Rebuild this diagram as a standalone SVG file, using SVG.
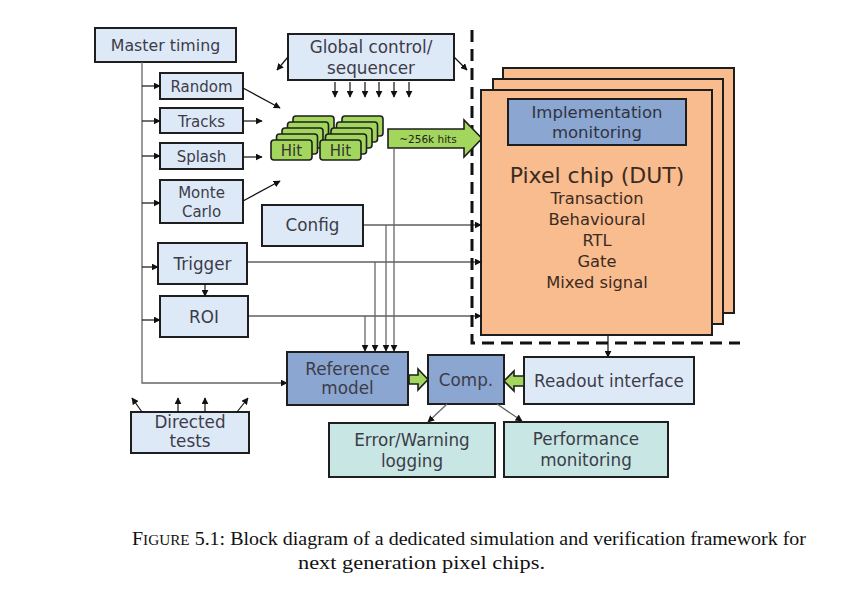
<svg xmlns="http://www.w3.org/2000/svg" width="843" height="592" viewBox="0 0 843 592">
<defs>
<marker id="ahs" viewBox="0 0 10 10" refX="9" refY="5" markerWidth="7" markerHeight="7" orient="auto" markerUnits="userSpaceOnUse">
<path d="M0,0 L10,5 L0,10 z" fill="#111"/>
</marker>
</defs>
<style>
.lb{fill:#dee9f8;stroke:#1e1e1e;stroke-width:2}
.sb{fill:#8ba6d1;stroke:#1e1e1e;stroke-width:2}
.tl{fill:#c8e6e4;stroke:#1e1e1e;stroke-width:2}
.pc{fill:#f9bc8e;stroke:#1e1e1e;stroke-width:2}
.hit{fill:#a3d65c;stroke:#1e1e1e;stroke-width:1.6}
.ga{fill:#a3d65c;stroke:#1e1e1e;stroke-width:1.6}
text{font-family:"DejaVu Sans","Liberation Sans",sans-serif;fill:#3c3c48;text-anchor:middle}
.t15{font-size:16.8px}
.t14{font-size:15px}
.dut{fill:#3b2b22}
.ln{fill:none;stroke:#111;stroke-width:1.2}
.lg{fill:none;stroke:#666;stroke-width:1.3}
.cap{font-family:"Liberation Serif","DejaVu Serif",serif;font-size:19px;fill:#111}
</style>
<g id="dashed-boundary">
<path d="M472,30 V343 H740" fill="none" stroke="#111" stroke-width="3" stroke-dasharray="12 7"/>
</g>
<g id="master-timing"><rect class="lb" x="95" y="28" width="141" height="34"/><text x="165.5" y="51" style="font-size:15.8px">Master timing</text></g>
<g id="random"><rect class="lb" x="160" y="73" width="83" height="26"/><text class="t14" x="201.5" y="91.5">Random</text></g>
<g id="tracks"><rect class="lb" x="160" y="108" width="83" height="25"/><text class="t14" x="201.5" y="126.5">Tracks</text></g>
<g id="splash"><rect class="lb" x="160" y="143" width="83" height="26"/><text class="t14" x="201.5" y="161.5">Splash</text></g>
<g id="monte-carlo"><rect class="lb" x="160" y="180" width="83" height="43"/><text class="t14" x="201.5" y="198">Monte</text><text class="t14" x="201.5" y="217">Carlo</text></g>
<g id="global-control"><rect class="lb" x="288" y="34" width="166" height="46"/><text class="t15" x="371" y="53">Global control/</text><text class="t15" x="371" y="74">sequencer</text></g>
<g id="config"><rect class="lb" x="262" y="205" width="101" height="41"/><text class="t15" x="312.5" y="231">Config</text></g>
<g id="trigger"><rect class="lb" x="158" y="243" width="89" height="41"/><text class="t15" x="202.5" y="270">Trigger</text></g>
<g id="roi"><rect class="lb" x="160" y="296" width="88" height="41"/><text class="t15" x="204" y="323">ROI</text></g>
<g id="hits">
<rect class="hit" x="293" y="116" width="41" height="20" rx="3"/>
<rect class="hit" x="287.5" y="122" width="41" height="20" rx="3"/>
<rect class="hit" x="282" y="128" width="41" height="20" rx="3"/>
<rect class="hit" x="276.5" y="134" width="41" height="20" rx="3"/>
<rect class="hit" x="271" y="140" width="41" height="20" rx="3"/>
<text x="291.5" y="156" style="font-size:15px;fill:#333">Hit</text>
<rect class="hit" x="342" y="116" width="41" height="20" rx="3"/>
<rect class="hit" x="336.5" y="122" width="41" height="20" rx="3"/>
<rect class="hit" x="331" y="128" width="41" height="20" rx="3"/>
<rect class="hit" x="325.5" y="134" width="41" height="20" rx="3"/>
<rect class="hit" x="320" y="140" width="41" height="20" rx="3"/>
<text x="340.5" y="156" style="font-size:15px;fill:#333">Hit</text>
</g>
<g id="hits-arrow">
<polygon class="ga" points="388,129 464,129 464,120 482,138.5 464,157 464,148 388,148"/>
<text x="428" y="142.5" style="font-size:10.5px;fill:#222">~256k hits</text>
</g>
<g id="dut">
<rect class="pc" x="503" y="68" width="231" height="245"/>
<rect class="pc" x="493" y="79" width="230" height="245"/>
<rect class="pc" x="481" y="90" width="231" height="245"/>
<rect class="sb" x="508" y="99" width="178" height="46"/>
<text x="597" y="118" style="font-size:16.5px;fill:#2e3440">Implementation</text>
<text x="597" y="138" style="font-size:16.5px;fill:#2e3440">monitoring</text>
<text class="dut" x="597" y="183" style="font-size:22px">Pixel chip (DUT)</text>
<text class="dut" x="597" y="204" style="font-size:16.3px">Transaction</text>
<text class="dut" x="597" y="225" style="font-size:16.3px">Behavioural</text>
<text class="dut" x="597" y="246" style="font-size:16.3px">RTL</text>
<text class="dut" x="597" y="267" style="font-size:16.3px">Gate</text>
<text class="dut" x="597" y="288" style="font-size:16.3px">Mixed signal</text>
</g>
<g id="reference-model"><rect class="sb" x="287" y="352" width="121" height="53"/><text class="t15" x="347.5" y="375">Reference</text><text class="t15" x="347.5" y="394">model</text></g>
<g id="comp"><rect class="sb" x="428" y="355" width="76" height="49"/><text class="t15" x="466" y="386">Comp.</text></g>
<g id="readout-interface"><rect class="lb" x="524" y="357" width="170" height="47"/><text class="t15" x="609" y="387">Readout interface</text></g>
<g id="directed-tests"><rect class="lb" x="131" y="412" width="118" height="41"/><text class="t15" x="190" y="428">Directed</text><text class="t15" x="190" y="447">tests</text></g>
<g id="error-logging"><rect class="tl" x="329" y="423" width="166" height="54"/><text class="t15" x="412" y="446">Error/Warning</text><text class="t15" x="412" y="467">logging</text></g>
<g id="performance-monitoring"><rect class="tl" x="504" y="422" width="164" height="55"/><text class="t15" x="586" y="445">Performance</text><text class="t15" x="586" y="466">monitoring</text></g>
<g id="connectors">
<path class="lg" d="M142,62 V383 H287" marker-end="url(#ahs)"/>
<path class="ln" d="M142,86 H160" marker-end="url(#ahs)"/>
<path class="ln" d="M142,121 H160" marker-end="url(#ahs)"/>
<path class="ln" d="M142,156 H160" marker-end="url(#ahs)"/>
<path class="ln" d="M142,203 H160" marker-end="url(#ahs)"/>
<path class="ln" d="M142,267 H158" marker-end="url(#ahs)"/>
<path class="ln" d="M142,320 H160" marker-end="url(#ahs)"/>
<path class="ln" d="M243,88 L280,108" marker-end="url(#ahs)"/>
<path class="ln" d="M243,121 H262" marker-end="url(#ahs)"/>
<path class="ln" d="M243,157 H262" marker-end="url(#ahs)"/>
<path class="ln" d="M243,201 L280,181" marker-end="url(#ahs)"/>
<path class="ln" d="M288,57 L277,70" marker-end="url(#ahs)"/>
<path class="ln" d="M454,57 L467,70" marker-end="url(#ahs)"/>
<path class="ln" d="M335,82 V97" marker-end="url(#ahs)"/>
<path class="ln" d="M350,82 V97" marker-end="url(#ahs)"/>
<path class="ln" d="M365,82 V97" marker-end="url(#ahs)"/>
<path class="ln" d="M379,82 V97" marker-end="url(#ahs)"/>
<path class="ln" d="M394,82 V97" marker-end="url(#ahs)"/>
<path class="ln" d="M409,82 V97" marker-end="url(#ahs)"/>
<path class="ln" d="M363,225 H481" marker-end="url(#ahs)"/>
<path class="ln" d="M247,262 H481" marker-end="url(#ahs)"/>
<path class="ln" d="M248,316 H481" marker-end="url(#ahs)"/>
<path class="lg" d="M394,148 V351" marker-end="url(#ahs)"/>
<path class="lg" d="M386,225 V351" marker-end="url(#ahs)"/>
<path class="lg" d="M375,262 V351" marker-end="url(#ahs)"/>
<path class="lg" d="M365,316 V351" marker-end="url(#ahs)"/>
<path class="ln" d="M205,284 V296" marker-end="url(#ahs)"/>
<path class="ln" d="M608,335 V357" marker-end="url(#ahs)"/>
<path class="lg" d="M447,404 L428,422" marker-end="url(#ahs)"/>
<path class="lg" d="M497,404 L522,421" marker-end="url(#ahs)"/>
<path class="ln" d="M142,412 L132,398" marker-end="url(#ahs)"/>
<path class="ln" d="M178,412 V398" marker-end="url(#ahs)"/>
<path class="ln" d="M205,412 V398" marker-end="url(#ahs)"/>
<path class="ln" d="M237,412 L248,398" marker-end="url(#ahs)"/>
<polygon class="ga" points="409,375 418,375 418,369 428,379.5 418,390 418,384 409,384"/>
<polygon class="ga" points="524,376 514,376 514,371 504,381 514,391 514,386 524,386"/>
</g>
<g id="caption">
<text class="cap" x="132" y="545" style="text-anchor:start" textLength="674" lengthAdjust="spacingAndGlyphs"><tspan>F</tspan><tspan style="font-size:14.5px">IGURE</tspan> 5.1:  Block diagram of a dedicated simulation and verification framework for</text>
<text class="cap" x="298" y="569" style="text-anchor:start" textLength="247" lengthAdjust="spacingAndGlyphs">next generation pixel chips.</text>
</g>
</svg>
